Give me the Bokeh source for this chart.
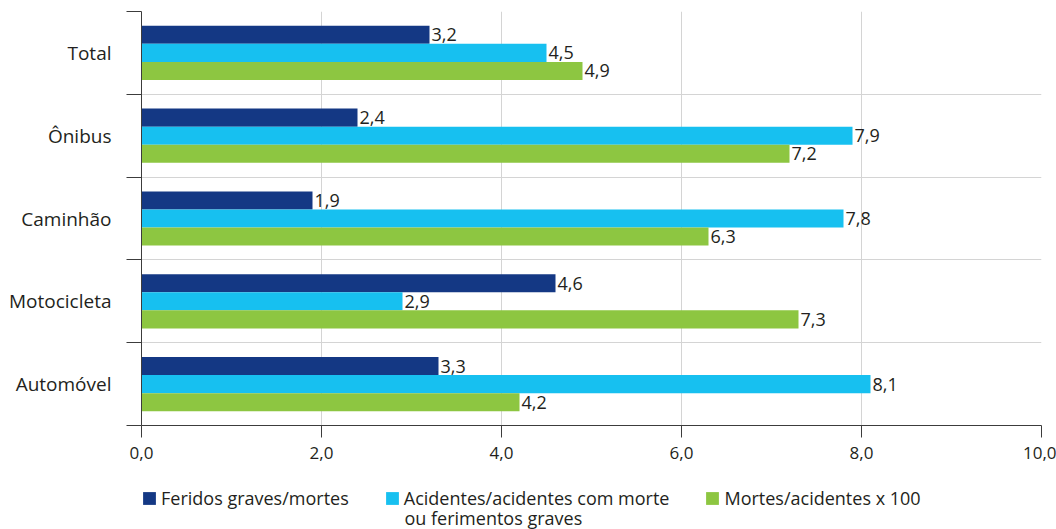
from bokeh.plotting import figure
from bokeh.layouts import column
from bokeh.models import ColumnDataSource, FixedTicker, Legend, LegendItem, Range1d, Label
from bokeh.transform import dodge
from bokeh.core.properties import value
from bokeh.embed import file_html
from bokeh.resources import INLINE

categories = ["Total", "Ônibus", "Caminhão", "Motocicleta", "Automóvel"]
series_names = ["Feridos graves/mortes",
                "Acidentes/acidentes com morte",
                "Mortes/acidentes x 100"]
series_name_cont = "ou ferimentos graves"
feridos = [3.2, 2.4, 1.9, 4.6, 3.3]
acidentes = [4.5, 7.9, 7.8, 2.9, 8.1]
mortes = [4.9, 7.2, 6.3, 7.3, 4.2]
x_ticks = [0, 2, 4, 6, 8, 10]
x_tick_labels = ["0,0", "2,0", "4,0", "6,0", "8,0", "10,0"]
colors = ["#143884", "#17c0f0", "#8dc641"]

FONT = "Open Sans"
TXT = "#231f20"

n = len(categories)
centers = [n - i - 0.5 for i in range(n)]
boundaries = list(range(n + 1))

def fmt(v):
    return f"{v:.1f}".replace(".", ",")

src = ColumnDataSource(dict(
    y=centers,
    s0=feridos, s1=acidentes, s2=mortes,
    l0=[fmt(v) for v in feridos],
    l1=[fmt(v) for v in acidentes],
    l2=[fmt(v) for v in mortes],
))

p = figure(width=1056, height=470,
           x_range=Range1d(0, 10), y_range=Range1d(0, n),
           output_backend="svg", toolbar_location=None,
           min_border_left=141, min_border_right=15,
           min_border_top=11, min_border_bottom=45)
p.outline_line_color = None

bar_h = 0.218
offsets = [bar_h, 0.0, -bar_h]
for k in range(3):
    p.hbar(y=dodge("y", offsets[k], range=p.y_range), right=f"s{k}", left=0,
           height=bar_h, source=src, fill_color=colors[k], line_color=None)
    p.text(x=f"s{k}", y=dodge("y", offsets[k], range=p.y_range), text=f"l{k}",
           source=src, x_offset=2, text_baseline="middle", text_align="left",
           text_font=value(FONT), text_font_size="18px", text_color=TXT)

# x axis
xa = p.xaxis[0]
xa.ticker = FixedTicker(ticks=x_ticks, minor_ticks=[])
xa.major_label_overrides = {t: l for t, l in zip(x_ticks, x_tick_labels)}
xa.major_tick_out = 12
xa.major_tick_in = 0
xa.major_tick_line_color = "#3c3c3c"
xa.axis_line_color = "#3c3c3c"
xa.major_label_standoff = 9
xa.major_label_text_font = FONT
xa.major_label_text_font_size = "17px"
xa.major_label_text_color = TXT

# y axis: labels at centres, ticks at boundaries
ya = p.yaxis[0]
ya.ticker = FixedTicker(ticks=centers, minor_ticks=boundaries)
ya.major_label_overrides = {c: name for c, name in zip(centers, categories)}
ya.major_tick_out = 0
ya.major_tick_in = 0
ya.minor_tick_out = 15
ya.minor_tick_in = 0
ya.minor_tick_line_color = "#3c3c3c"
ya.axis_line_color = "#3c3c3c"
ya.major_label_standoff = 15
ya.major_label_text_font = FONT
ya.major_label_text_font_size = "19px"
ya.major_label_text_color = TXT

p.xgrid.grid_line_color = "#d4d4d4"
p.ygrid.ticker = FixedTicker(ticks=boundaries)
p.ygrid.grid_line_color = "#d4d4d4"

# legend strip (separate figure; its frame is aligned with the main one: 141..1041 px)
lf = figure(width=1056, height=59, x_range=Range1d(141, 1041), y_range=Range1d(0, 59),
            output_backend="svg", toolbar_location=None,
            x_axis_type=None, y_axis_type=None,
            min_border_left=141, min_border_right=15, min_border_top=0, min_border_bottom=0)
lf.outline_line_color = None
lf.xgrid.visible = False
lf.ygrid.visible = False
# proxy renderers (same data, lying outside this strip's visible range) for the legend swatches
leg_r = [lf.hbar(y="y", right=f"s{k}", left=0, height=bar_h, source=src,
                 fill_color=colors[k], line_color=None) for k in range(3)]
legend = Legend(items=[LegendItem(label=series_names[k], renderers=[leg_r[k]]) for k in range(3)],
                orientation="horizontal", location=(0, 19),
                glyph_width=16, glyph_height=16, label_standoff=4, spacing=35,
                padding=0, margin=0, border_line_color=None, background_fill_alpha=0,
                label_text_font=FONT, label_text_font_size="18px", label_text_color=TXT)
lf.add_layout(legend)
lf.add_layout(Label(x=404, y=12, text=series_name_cont, text_baseline="middle",
                    text_font=FONT, text_font_size="18px", text_color=TXT))

open("out.html", "w").write(file_html(column(p, lf, spacing=0), INLINE))
